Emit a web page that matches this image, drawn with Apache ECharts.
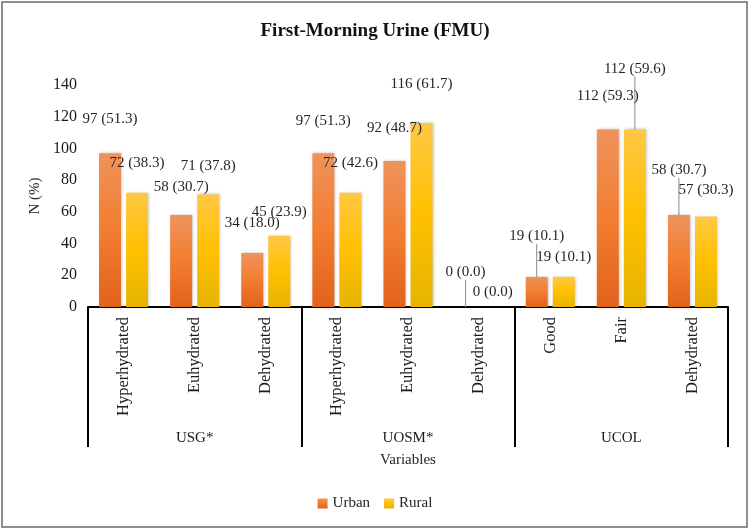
<!DOCTYPE html>
<html>
<head>
<meta charset="utf-8">
<script src="https://cdn.jsdelivr.net/npm/echarts@6/dist/echarts.min.js"></script>
<style>
html,body{margin:0;padding:0;background:#fff;}
#main{width:750px;height:530px;}
</style>
</head>
<body>
<div id="main"></div>
<script>
// categories, two levels
var categories=['Hyperhydrated','Euhydrated','Dehydrated','Hyperhydrated','Euhydrated','Dehydrated','Good','Fair','Dehydrated'];
var groups=['USG*','UOSM*','UCOL'];
var yTicks=[0,20,40,60,80,100,120,140];
// counts and percents
var urbanN=[97,58,34,97,92,0,19,112,58];
var urbanPct=['51.3','30.7','18.0','51.3','48.7','0.0','10.1','59.3','30.7'];
var ruralN=[72,71,45,72,116,0,19,112,57];
var ruralPct=['38.3','37.8','23.9','42.6','61.7','0.0','10.1','59.6','30.3'];

// how far each label sits above its bar (px), and which ones got a leader line
var urbanLift=[35,28,31,33,34,35,41,34,45];
var ruralLift=[30,29,24,30,39,15,20,61,27];
var urbanLeader=[5,6,8];
var ruralLeader=[7];

var FONT='"Liberation Serif","Times New Roman",serif';

function makeData(vals,pct,leaders){
    var out=[];
    for(var i=0;i<vals.length;i++){
        var item={value:vals[i],pct:pct[i]};
        if(leaders.indexOf(i)!=-1)
            item.labelLine={show:true,lineStyle:{color:'#8a8a8a',width:1}};
        out.push(item);
    }
    return out;
}

function grad(a,b,c){
    return new echarts.graphic.LinearGradient(0,0,0,1,[
        {offset:0,color:a},{offset:0.5,color:b},{offset:1,color:c}]);
}

var chart=echarts.init(document.getElementById('main'));
var option={
    animation:false,
    graphic:[{
        type:'rect',
        shape:{x:2,y:2,width:745,height:525},
        style:{fill:'none',stroke:'#6a6a6a',lineWidth:1.5},
        silent:true
    }],
    title:{
        text:'First-Morning Urine (FMU)',
        left:'center',
        top:17,
        textStyle:{fontFamily:FONT,fontWeight:'bold',fontSize:19,color:'#111'}
    },
    legend:{
        data:['Urban','Rural'],
        bottom:14,
        left:'center',
        icon:'rect',
        itemWidth:10,
        itemHeight:10,
        itemGap:14,
        textStyle:{fontFamily:FONT,fontSize:15,color:'#262626'}
    },
    grid:{left:88,right:22,top:85,bottom:223},
    xAxis:[{
        type:'category',
        data:categories,
        axisLine:{show:true,lineStyle:{color:'#000',width:2}},
        axisTick:{show:false},
        axisLabel:{rotate:90,margin:10,interval:0,fontFamily:FONT,fontSize:16.5,color:'#1a1a1a'}
    },{
        type:'category',
        data:groups,
        position:'bottom',
        axisLine:{show:false},
        axisTick:{show:true,length:140,interval:0,lineStyle:{color:'#000',width:2}},
        axisLabel:{margin:124,interval:0,fontFamily:FONT,fontSize:15,color:'#1a1a1a'},
        name:'Variables',
        nameLocation:'middle',
        nameGap:146,
        nameTextStyle:{fontFamily:FONT,fontSize:15,color:'#262626'}
    }],
    yAxis:{
        type:'value',
        min:yTicks[0],
        max:yTicks[yTicks.length-1],
        interval:yTicks[1]-yTicks[0],
        axisLine:{show:false},
        axisTick:{show:false},
        splitLine:{show:false},
        axisLabel:{margin:11,fontFamily:FONT,fontSize:16,color:'#1a1a1a'},
        name:'N (%)',
        nameLocation:'middle',
        nameGap:42,
        nameTextStyle:{fontFamily:FONT,fontSize:15,color:'#262626'}
    },
    series:[{
        name:'Urban',
        type:'bar',
        xAxisIndex:0,
        barWidth:22,
        barGap:'23%',
        data:makeData(urbanN,urbanPct,urbanLeader),
        itemStyle:{color:grad('#EF935C','#F27D30','#E2621C'),shadowColor:'rgba(0,0,0,0.25)',shadowBlur:3,shadowOffsetX:1},
        label:{show:true,position:'top',distance:2,fontFamily:FONT,fontSize:15,color:'#262626',
            formatter:function(p){return p.value+' ('+p.data.pct+')';}},
        labelLayout:function(p){return {dy:-(urbanLift[p.dataIndex]-10)};}
    },{
        name:'Rural',
        type:'bar',
        xAxisIndex:0,
        barWidth:22,
        data:makeData(ruralN,ruralPct,ruralLeader),
        itemStyle:{color:grad('#FFC844','#FFC000','#E6B400'),shadowColor:'rgba(0,0,0,0.25)',shadowBlur:3,shadowOffsetX:1},
        label:{show:true,position:'top',distance:2,fontFamily:FONT,fontSize:15,color:'#262626',
            formatter:function(p){return p.value+' ('+p.data.pct+')';}},
        labelLayout:function(p){return {dy:-(ruralLift[p.dataIndex]-10)};}
    }],
    color:['#EA6F24','#F7BE00']
};
chart.setOption(option);
</script>
</body>
</html>
